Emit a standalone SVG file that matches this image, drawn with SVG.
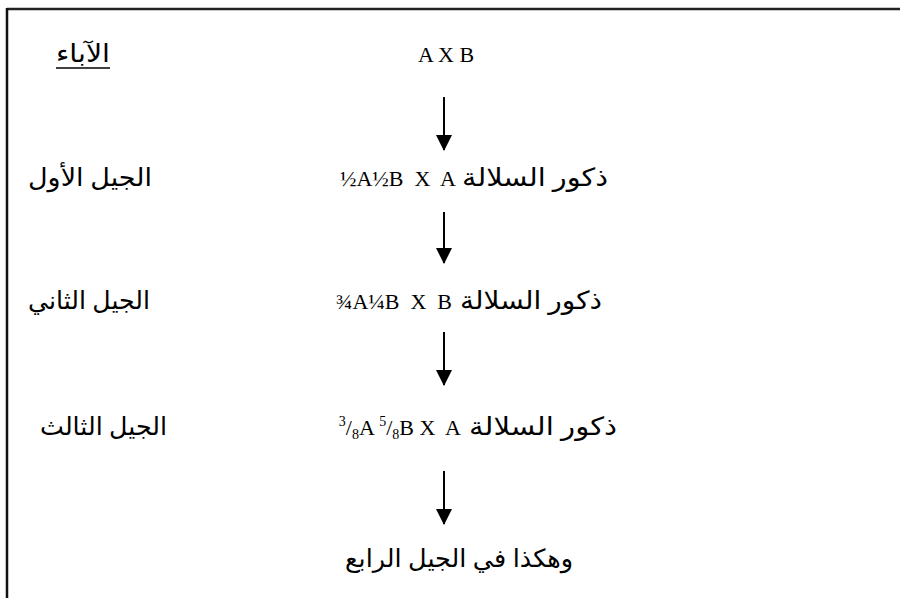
<svg xmlns="http://www.w3.org/2000/svg" width="900" height="598" viewBox="0 0 900 598">
<style>
.lat{font-family:"Liberation Serif","DejaVu Serif",serif;font-size:22px;fill:#000}
.ar{font-family:"Liberation Serif","DejaVu Sans",serif;font-size:25px;fill:#000}
.conn line{stroke:#000;stroke-width:2}
</style>
<defs>
<marker id="ah" markerWidth="16" markerHeight="16" refX="15" refY="8" orient="auto" markerUnits="userSpaceOnUse" viewBox="0 0 16 16">
<path d="M0,0 L16,8 L0,16 Z" fill="#000"/>
</marker>
</defs>
<rect width="900" height="598" fill="#fff"/>
<g id="frame">
<line x1="7" y1="9" x2="900" y2="9" stroke="#222" stroke-width="2.5"/>
<line x1="7" y1="8" x2="7" y2="598" stroke="#111" stroke-width="2.5"/>
</g>
<g id="parents">
<text class="ar" x="83" y="62" text-anchor="middle" direction="rtl" textLength="54" lengthAdjust="spacingAndGlyphs">الآباء</text>
<line x1="56" y1="68" x2="110" y2="68" stroke="#000" stroke-width="1.5"/>
<text class="lat" x="446" y="62" text-anchor="middle" font-size="26">A X B</text>
</g>
<g id="gen1">
<text class="ar" x="90" y="186" text-anchor="middle" direction="rtl" textLength="124" lengthAdjust="spacingAndGlyphs">الجيل الأول</text>
<text class="lat" x="456" y="186" text-anchor="end" xml:space="preserve">½A½B  X  A</text>
<text class="ar" x="535" y="186" text-anchor="middle" direction="rtl" textLength="146" lengthAdjust="spacingAndGlyphs">ذكور السلالة</text>
</g>
<g id="gen2">
<text class="ar" x="89" y="309" text-anchor="middle" direction="rtl" textLength="122" lengthAdjust="spacingAndGlyphs">الجيل الثاني</text>
<text class="lat" x="452" y="309" text-anchor="end" xml:space="preserve">¾A¼B  X  B</text>
<text class="ar" x="531" y="309" text-anchor="middle" direction="rtl" textLength="142" lengthAdjust="spacingAndGlyphs">ذكور السلالة</text>
</g>
<g id="gen3">
<text class="ar" x="103.5" y="435" text-anchor="middle" direction="rtl" textLength="127" lengthAdjust="spacingAndGlyphs">الجيل الثالث</text>
<text class="lat" x="461" y="435" text-anchor="end" xml:space="preserve"><tspan dy="-9" font-size="14">3</tspan><tspan dy="9">/</tspan><tspan font-size="14" dy="4">8</tspan><tspan dy="-4">A </tspan><tspan dy="-9" font-size="14">5</tspan><tspan dy="9">/</tspan><tspan font-size="14" dy="4">8</tspan><tspan dy="-4">B X  A</tspan></text>
<text class="ar" x="543" y="435" text-anchor="middle" direction="rtl" textLength="148" lengthAdjust="spacingAndGlyphs">ذكور السلالة</text>
</g>
<g id="gen4">
<text class="ar" x="459" y="567" text-anchor="middle" direction="rtl" textLength="228" lengthAdjust="spacingAndGlyphs">وهكذا في الجيل الرابع</text>
</g>
<g id="connectors" class="conn">
<line x1="444" y1="97" x2="444" y2="150" marker-end="url(#ah)"/>
<line x1="444" y1="212" x2="444" y2="263" marker-end="url(#ah)"/>
<line x1="444" y1="332" x2="444" y2="385" marker-end="url(#ah)"/>
<line x1="444" y1="471" x2="444" y2="524" marker-end="url(#ah)"/>
</g>
</svg>
